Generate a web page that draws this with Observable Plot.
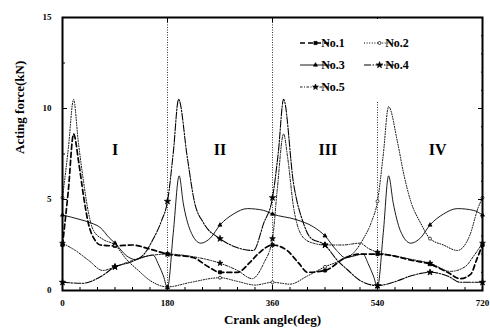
<!DOCTYPE html>
<html><head><meta charset="utf-8">
<script src="https://cdn.jsdelivr.net/npm/d3@7"></script>
<script src="https://cdn.jsdelivr.net/npm/@observablehq/plot@0.6"></script>
<style>
body{margin:0;background:#fff;}
#chart{width:490px;height:336px;}
</style></head><body><div id="chart"></div>
<script>
// ---- data ----
const no1Angle = [0, 10, 19, 28, 36, 45, 55, 65, 90, 120, 147, 180, 225, 250, 270, 300, 320, 335, 360, 385, 405, 420, 450, 485, 510, 540, 567, 600, 630, 660, 682, 700, 710, 720];
const no1Force = [2.5, 5.5, 8.6, 7.0, 5.2, 3.6, 2.8, 2.5, 2.45, 2.5, 2.3, 2.0, 1.8, 1.3, 1.0, 1.0, 1.5, 2.0, 2.5, 2.2, 1.5, 1.0, 1.1, 1.8, 2.0, 2.0, 1.9, 1.65, 1.45, 1.0, 0.65, 0.9, 1.7, 2.5];

const no2Angle = [0, 10, 19, 27, 36, 45, 53, 70, 90, 110, 130, 150, 180, 220, 270, 300, 330, 360, 390, 420, 450, 480, 500, 515, 530, 540, 550, 559, 574, 585, 597, 614, 630, 653, 677, 699, 712, 720];
const no2Force = [5.1, 7.8, 10.5, 8.2, 6.0, 4.2, 3.3, 2.8, 2.5, 1.7, 1.1, 0.55, 0.2, 0.45, 0.7, 0.5, 0.3, 0.45, 0.35, 0.8, 1.3, 1.7, 2.1, 2.8, 3.8, 4.9, 7.5, 10.1, 8.2, 6.4, 4.9, 3.7, 2.85, 2.5, 2.2, 3.1, 4.5, 5.1];

const no3Angle = [0, 30, 50, 65, 80, 90, 110, 125, 140, 155, 165, 173, 180, 190, 200, 207, 219, 237, 254, 270, 293, 317, 345, 360, 400, 430, 450, 470, 485, 500, 515, 525, 533, 540, 550, 559, 567, 579, 597, 614, 630, 653, 677, 705, 720];
const no3Force = [4.15, 3.9, 3.7, 3.45, 2.9, 2.6, 1.9, 1.7, 1.85, 1.95, 1.4, 0.8, 0.15, 3.2, 6.3, 4.8, 3.3, 2.6, 2.9, 3.6, 4.2, 4.5, 4.4, 4.2, 3.9, 3.5, 3.0, 2.2, 1.8, 1.9, 2.0, 1.4, 0.8, 0.2, 3.2, 6.3, 4.8, 3.3, 2.6, 2.9, 3.6, 4.2, 4.5, 4.4, 4.15];

const no4Angle = [0, 35, 65, 90, 120, 140, 155, 170, 180, 190, 199, 214, 226, 242, 270, 300, 327, 345, 360, 370, 379, 396, 413, 425, 450, 470, 490, 510, 540, 567, 597, 630, 660, 682, 720];
const no4Force = [0.45, 0.4, 0.75, 1.3, 1.6, 2.0, 2.8, 3.85, 4.9, 7.6, 10.5, 7.3, 4.9, 3.7, 2.85, 2.35, 2.2, 3.7, 5.1, 7.6, 10.5, 5.9, 3.7, 2.9, 2.5, 1.7, 1.1, 0.55, 0.27, 0.45, 0.8, 1.0, 0.8, 0.45, 0.45];

const no5Angle = [0, 22, 45, 69, 90, 120, 147, 180, 225, 270, 300, 325, 345, 360, 368, 379, 386, 396, 413, 430, 450, 480, 510, 525, 540, 570, 600, 630, 665, 690, 705, 720];
const no5Force = [2.6, 2.2, 1.65, 1.1, 1.3, 1.65, 1.9, 2.0, 1.85, 1.5, 1.1, 0.65, 1.5, 2.85, 5.5, 8.6, 7.3, 4.6, 2.9, 2.6, 2.5, 2.5, 2.6, 2.3, 2.1, 1.9, 1.7, 1.5, 1.05, 1.3, 1.9, 2.6];

const seriesNames = ["No.1", "No.2", "No.3", "No.4", "No.5"];
const xTicks = [0, 180, 360, 540, 720];
const yTicks = [0, 5, 10, 15];
const dividerAngles = [180, 360, 540];
const regionLabels = ["I", "II", "III", "IV"];
const regionAngles = [90, 270, 455, 643];
const regionForce = 7.7;

// ---- build table ----
const seriesArrays = [[no1Angle, no1Force], [no2Angle, no2Force], [no3Angle, no3Force], [no4Angle, no4Force], [no5Angle, no5Force]];
const rows = [];
seriesNames.forEach((name, s) => {
  const [a, f] = seriesArrays[s];
  a.forEach((ang, i) => rows.push({series: name, angle: ang, force: f[i]}));
});
const regions = regionLabels.map((t, i) => ({t, angle: regionAngles[i], force: regionForce}));

const sty = {
  "No.1": {dash: "5,3", w: 1.7, symbol: "square", fill: "black", r: 1.8},
  "No.2": {dash: "1,1.6", w: 1.0, symbol: "circle", fill: "white", r: 1.5},
  "No.3": {dash: null, w: 0.9, symbol: "triangle", fill: "black", r: 1.5},
  "No.4": {dash: "7,1.5,1.5,1.5", w: 1.1, symbol: "star", fill: "black", r: 2.0},
  "No.5": {dash: "2.5,1.5,1,1.5", w: 0.9, symbol: "star", fill: "black", r: 1.8}
};

const font = "'Liberation Serif', 'DejaVu Serif', serif";
const noText = () => "";
const marks = [
  Plot.ruleX(dividerAngles, {stroke: "#333", strokeWidth: 1, strokeDasharray: "1,1.5"})
];
seriesNames.forEach(name => {
  const d = rows.filter(r => r.series === name);
  const s = sty[name];
  marks.push(Plot.line(d, {x: "angle", y: "force", curve: "monotone-x", stroke: "black",
    strokeWidth: s.w, strokeDasharray: s.dash}));
  marks.push(Plot.dot(d.filter(r => r.angle % 90 === 0), {x: "angle", y: "force",
    symbol: () => s.symbol, r: s.r, fill: s.fill, stroke: "black", strokeWidth: 0.7}));
});
marks.push(
  Plot.text(regions, {x: "angle", y: "force", text: "t", fontSize: 16, fontWeight: "bold", fontFamily: font, fill: "black"}),
  Plot.frame({stroke: "black", strokeWidth: 2}),
  Plot.axisX({ticks: xTicks, tickSize: 0, tickPadding: 9, fontSize: 9, fontWeight: "bold", fontFamily: font, label: null}),
  Plot.axisX({anchor: "bottom", ticks: d3.range(0, 721, 30), tickSize: -3, tickFormat: noText, label: null}),
  Plot.axisX({anchor: "bottom", ticks: xTicks, tickSize: -5, tickFormat: noText, label: null}),
  Plot.axisX({anchor: "top", ticks: xTicks, tickSize: -4, tickFormat: noText, label: null}),
  Plot.axisY({ticks: yTicks, tickSize: 0, tickPadding: 11, fontSize: 9, fontWeight: "bold", fontFamily: font, label: null}),
  Plot.axisY({anchor: "left", ticks: yTicks, tickSize: -5, tickFormat: noText, label: null}),
  Plot.axisY({anchor: "left", ticks: d3.range(0, 15.1, 2.5), tickSize: -3, tickFormat: noText, label: null}),
  Plot.axisY({anchor: "right", ticks: yTicks, tickSize: -5, tickFormat: noText, label: null}),
  Plot.axisY({anchor: "right", ticks: d3.range(0, 15.1, 1), tickSize: -2, tickFormat: noText, label: null}),
  Plot.text(["Crank angle(deg)"], {frameAnchor: "bottom", dy: 33, fontSize: 13, fontWeight: "bold", fontFamily: font, fill: "black"}),
  Plot.text(["Acting force(kN)"], {frameAnchor: "left", dx: -43, rotate: -90, fontSize: 13, fontWeight: "bold", fontFamily: font, fill: "black"})
);

const chart = Plot.plot({
  width: 490, height: 336,
  marginLeft: 62, marginRight: 8, marginTop: 17, marginBottom: 46,
  style: {fontFamily: font, background: "white"},
  x: {domain: [0, 720]},
  y: {domain: [0, 15]},
  marks
});
document.getElementById("chart").appendChild(chart);

// ---- legend (inside plot, top-right) ----
const svg = d3.select(chart);
const lg = svg.append("g").attr("font-family", font).attr("font-weight", "bold").attr("font-size", 12);
lg.append("rect").attr("x", 294).attr("y", 19).attr("width", 134).attr("height", 82).attr("fill", "white");
const pos = [[300, 43], [364, 43], [300, 65], [364, 65], [300, 87]];
const sym = {square: d3.symbolSquare, circle: d3.symbolCircle, triangle: d3.symbolTriangle, star: d3.symbolStar};
seriesNames.forEach((name, i) => {
  const [x0, y0] = pos[i];
  const s = sty[name];
  const len = 31;
  lg.append("line").attr("x1", x0).attr("x2", x0 + len).attr("y1", y0).attr("y2", y0)
    .attr("stroke", "black").attr("stroke-width", s.w).attr("stroke-dasharray", s.dash);
  lg.append("path").attr("transform", `translate(${x0 + len / 2},${y0})`)
    .attr("d", d3.symbol(sym[s.symbol], Math.PI * s.r * s.r)())
    .attr("fill", s.fill).attr("stroke", "black").attr("stroke-width", 0.7);
  lg.append("text").attr("x", x0 + len + 2).attr("y", y0).attr("dy", "0.35em").text(name);
});
</script></body></html>
